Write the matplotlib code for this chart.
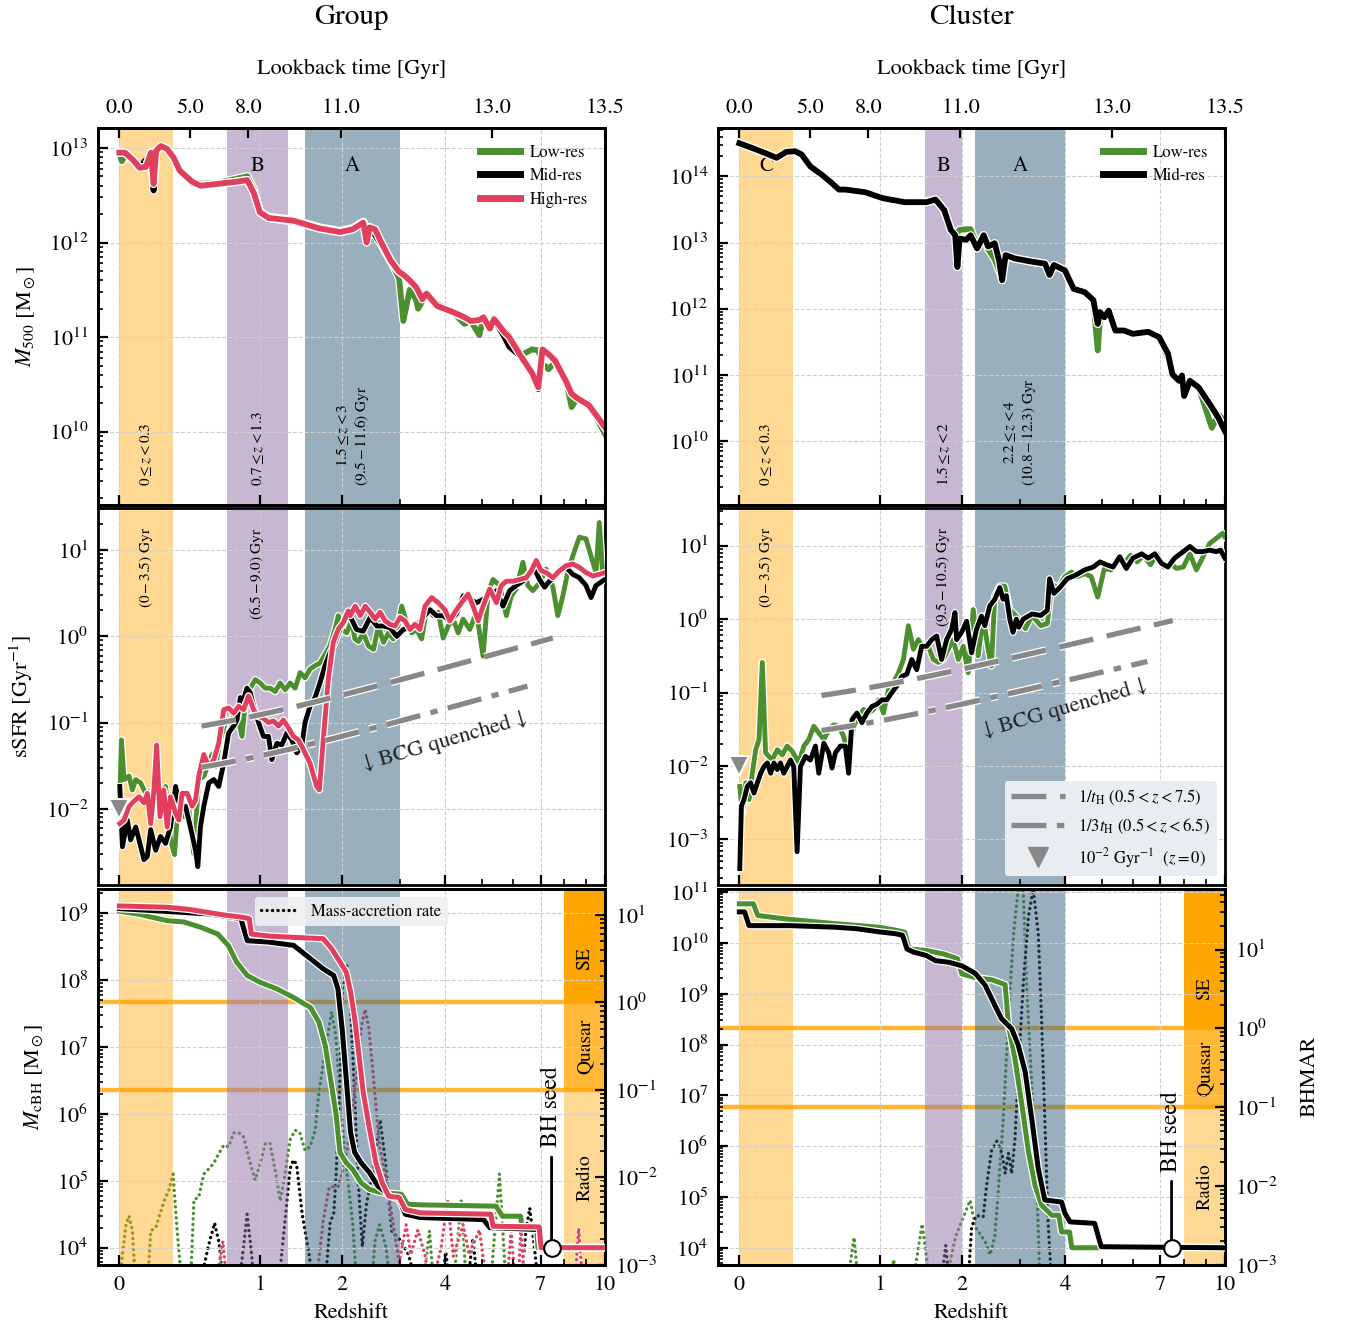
import numpy as np
import matplotlib
matplotlib.use("Agg")
import matplotlib.pyplot as plt
import matplotlib.patheffects as pe
import matplotlib.transforms as mtransforms
from matplotlib.lines import Line2D
from matplotlib.ticker import FixedLocator, NullFormatter, NullLocator

plt.rcParams.update({
    "font.family": "STIXGeneral",
    "mathtext.fontset": "stix",
    "font.size": 16,
    "axes.linewidth": 2.0,
    "xtick.direction": "in", "ytick.direction": "in",
    "xtick.major.size": 7, "xtick.minor.size": 4,
    "ytick.major.size": 7, "ytick.minor.size": 3.5,
    "xtick.major.width": 1.6, "ytick.major.width": 1.6,
    "xtick.minor.width": 1.2, "ytick.minor.width": 1.2,
    "xtick.major.pad": 7, "ytick.major.pad": 7,
    "xtick.labelsize": 16, "ytick.labelsize": 16,
})

GREEN = "#4b8f2f"
RED = "#e0405e"
BLACK = "black"
GREY = "#888888"

# ---------------- data (redshift, log10 value) ----------------
# shaded epochs C, B, A
GROUP_SPANS = [(0.0, 0.3), (0.7, 1.3), (1.5, 3.0)]
CLUSTER_SPANS = [(0.0, 0.3), (1.5, 2.0), (2.2, 4.0)]
SPAN_LETTERS = ["C", "B", "A"]
GROUP_ZTEXT = [r"$0\leq z<0.3$", r"$0.7\leq z<1.3$", "$1.5\\leq z<3$\n$(9.5-11.6)$ Gyr"]
GROUP_TTEXT = [r"$(0-3.5)$ Gyr", r"$(6.5-9.0)$ Gyr", None]
CLUSTER_ZTEXT = [r"$0\leq z<0.3$", r"$1.5\leq z<2$", "$2.2\\leq z<4$\n$(10.8-12.3)$ Gyr"]
CLUSTER_TTEXT = [r"$(0-3.5)$ Gyr", r"$(9.5-10.5)$ Gyr", None]

Z_MAJOR = [0, 1, 2, 4, 7, 10]
Z_MINOR = [3, 5, 6, 8, 9]
LOOKBACK_Z = [0.0, 0.42, 0.89, 1.98, 5.3, 10.0]
LOOKBACK_LABELS = ["0.0", "5.0", "8.0", "11.0", "13.0", "13.5"]

# Group M500
G_M500_Z = [0.000, 0.012, 0.028, 0.071, 0.105, 0.140, 0.169, 0.184, 0.199, 0.227,
            0.265, 0.306, 0.347, 0.434, 0.495, 0.625, 0.766, 0.880, 0.940, 1.001,
            1.087, 1.364, 1.679, 1.973, 2.165, 2.334, 2.390, 2.440, 2.534, 2.662,
            2.817, 2.980, 3.064, 3.194, 3.325, 3.371, 3.463, 3.557, 3.800, 4.219,
            4.495, 4.670, 4.916, 5.036, 5.229, 5.361, 5.699, 5.855, 6.281, 6.674,
            6.913, 7.080, 7.320, 7.600, 8.060, 8.330, 8.550, 9.160, 9.990]
G_M500_HIGH = [12.95, 12.95, 12.95, 12.87, 12.79, 12.80, 12.95, 12.62, 12.97, 13.02,
               12.99, 12.90, 12.76, 12.64, 12.60, 12.62, 12.64, 12.66, 12.53, 12.32,
               12.26, 12.23, 12.15, 12.11, 12.14, 12.21, 12.00, 12.16, 12.14, 11.98,
               11.81, 11.69, 11.66, 11.60, 11.53, 11.49, 11.40, 11.46, 11.33, 11.26,
               11.21, 11.17, 11.18, 11.21, 11.09, 11.19, 11.05, 11.00, 10.79, 10.62,
               10.47, 10.87, 10.82, 10.75, 10.54, 10.40, 10.36, 10.28, 10.05]
G_M500_MID = [12.95, 12.95, 12.95, 12.87, 12.79, 12.80, 12.95, 12.55, 12.97, 13.02,
              12.99, 12.90, 12.76, 12.64, 12.60, 12.62, 12.64, 12.66, 12.53, 12.32,
              12.26, 12.22, 12.15, 12.11, 12.14, 12.21, 12.10, 12.16, 12.08, 11.96,
              11.80, 11.69, 11.66, 11.60, 11.53, 11.49, 11.42, 11.46, 11.35, 11.25,
              11.21, 11.17, 11.18, 11.21, 11.09, 11.19, 11.00, 10.90, 10.79, 10.60,
              10.45, 10.87, 10.82, 10.75, 10.55, 10.42, 10.36, 10.28, 10.05]
G_M500_LOW = [12.95, 12.86, 12.92, 12.87, 12.79, 12.80, 12.95, 12.62, 12.97, 13.02,
              12.99, 12.90, 12.76, 12.65, 12.62, 12.63, 12.67, 12.70, 12.57, 12.33,
              12.27, 12.24, 12.16, 12.12, 12.15, 12.22, 12.12, 12.16, 12.12, 11.98,
              11.81, 11.62, 11.17, 11.50, 11.40, 11.30, 11.38, 11.44, 11.32, 11.25,
              11.14, 11.17, 11.02, 11.21, 11.12, 11.20, 11.07, 11.02, 10.81, 10.87,
              10.86, 10.72, 10.66, 10.74, 10.56, 10.26, 10.34, 10.30, 9.98]

# Cluster M500
C_M500_Z = [0.000, 0.083, 0.156, 0.202, 0.261, 0.317, 0.360, 0.420, 0.499, 0.566,
            0.635, 0.689, 0.862, 1.030, 1.263, 1.522, 1.633, 1.750, 1.841, 1.903,
            1.935, 1.967, 2.065, 2.132, 2.235, 2.342, 2.415, 2.528, 2.605, 2.660,
            2.724, 2.889, 3.242, 3.525, 3.626, 3.727, 3.989, 4.211, 4.502, 4.743,
            4.869, 4.933, 5.063, 5.195, 5.401, 5.683, 5.980, 6.530, 6.949, 7.302,
            7.484, 7.762, 7.896, 7.992, 8.250, 8.660, 9.310, 9.650, 10.0]
C_M500_MID = [14.50, 14.41, 14.33, 14.28, 14.37, 14.38, 14.33, 14.15, 14.03, 13.92,
              13.80, 13.80, 13.76, 13.67, 13.61, 13.61, 13.65, 13.49, 13.19, 13.11,
              12.63, 13.06, 13.04, 13.11, 12.91, 13.11, 12.94, 12.99, 12.73, 12.43,
              12.81, 12.76, 12.71, 12.68, 12.51, 12.66, 12.58, 12.30, 12.25, 12.13,
              11.77, 11.95, 11.87, 11.97, 11.67, 11.67, 11.62, 11.65, 11.57, 11.32,
              11.01, 10.91, 10.99, 10.68, 10.91, 10.81, 10.51, 10.35, 10.15]
C_M500_LOW = [14.50, 14.41, 14.33, 14.28, 14.37, 14.38, 14.33, 14.15, 14.03, 13.92,
              13.80, 13.80, 13.76, 13.67, 13.61, 13.62, 13.65, 13.49, 13.19, 13.13,
              13.15, 13.19, 13.20, 13.20, 12.95, 13.11, 12.90, 12.75, 12.58, 12.45,
              12.80, 12.76, 12.71, 12.68, 12.55, 12.66, 12.58, 12.30, 12.25, 12.13,
              11.37, 11.85, 11.87, 11.97, 11.67, 11.67, 11.62, 11.65, 11.57, 11.25,
              11.05, 10.91, 10.99, 10.75, 10.91, 10.81, 10.20, 10.40, 10.30]

# Group sSFR [log Gyr^-1]
G_SSFR_HIGH = [(0.002, -2.17), (0.023, -2.13), (0.049, -1.97), (0.075, -1.91), (0.102, -1.86),
               (0.129, -1.93), (0.148, -1.82), (0.167, -2.17), (0.186, -1.78), (0.202, -1.26),
               (0.222, -2.09), (0.245, -1.78), (0.266, -2.21), (0.287, -1.86), (0.320, -2.05),
               (0.341, -2.13), (0.363, -1.82), (0.398, -1.82), (0.432, -1.97), (0.456, -1.90),
               (0.480, -1.62), (0.517, -1.37), (0.555, -1.51), (0.594, -1.43), (0.633, -1.24),
               (0.674, -0.85), (0.715, -0.83), (0.758, -0.89), (0.802, -0.81), (0.847, -0.85),
               (0.892, -0.69), (0.940, -0.85), (0.988, -0.93), (1.037, -0.95), (1.088, -1.00),
               (1.140, -0.98), (1.194, -1.04), (1.248, -0.97), (1.304, -1.06), (1.362, -1.16),
               (1.420, -1.20), (1.481, -1.31), (1.563, -1.47), (1.649, -1.74), (1.684, -1.78),
               (1.737, -1.20), (1.805, -0.50), (1.875, -0.07), (1.948, 0.085), (2.021, 0.16),
               (2.096, 0.295), (2.126, 0.24), (2.205, 0.35), (2.285, 0.24), (2.366, 0.35),
               (2.450, 0.28), (2.535, 0.20), (2.623, 0.28), (2.714, 0.18), (2.807, 0.14),
               (2.901, 0.12), (2.999, 0.22), (3.098, 0.18), (3.200, 0.08), (3.304, 0.14),
               (3.411, 0.08), (3.521, 0.35), (3.674, 0.45), (3.827, 0.39), (3.989, 0.31),
               (4.113, 0.18), (4.241, 0.28), (4.415, 0.39), (4.596, 0.49), (4.735, 0.35),
               (4.879, 0.18), (5.025, 0.35), (5.225, 0.55), (5.434, 0.39), (5.595, 0.59),
               (5.759, 0.64), (5.983, 0.64), (6.216, 0.66), (6.455, 0.68), (6.643, 0.76),
               (6.834, 0.88), (7.031, 0.76), (7.229, 0.74), (7.505, 0.68), (7.784, 0.76),
               (8.078, 0.82), (8.380, 0.84), (8.693, 0.80), (9.016, 0.74), (9.353, 0.70),
               (9.694, 0.72), (10.0, 0.74)]
G_SSFR_MID = [(0.002, -1.74), (0.015, -2.44), (0.040, -2.13), (0.057, -2.36), (0.084, -2.21),
              (0.102, -2.36), (0.129, -2.59), (0.148, -2.55), (0.167, -2.24), (0.196, -2.48),
              (0.225, -2.32), (0.256, -2.40), (0.287, -2.21), (0.320, -1.74), (0.352, -2.01),
              (0.386, -1.97), (0.420, -2.21), (0.456, -2.48), (0.473, -2.67), (0.492, -2.21),
              (0.517, -1.97), (0.555, -1.70), (0.594, -1.66), (0.633, -1.74), (0.674, -1.47),
              (0.715, -1.12), (0.758, -1.04), (0.787, -0.97), (0.817, -0.71), (0.847, -0.73),
              (0.877, -0.60), (0.908, -0.65), (0.940, -0.81), (0.988, -1.00), (1.037, -1.16),
              (1.088, -1.16), (1.123, -1.43), (1.176, -1.24), (1.230, -1.26), (1.286, -1.12),
              (1.343, -1.20), (1.401, -1.35), (1.460, -1.28), (1.501, -1.00), (1.563, -0.81),
              (1.627, -0.71), (1.692, -0.54), (1.760, -0.34), (1.829, -0.19), (1.900, -0.07),
              (1.971, 0.08), (2.045, 0.20), (2.121, 0.24), (2.225, 0.08), (2.333, 0.06),
              (2.450, 0.22), (2.565, 0.12), (2.684, 0.12), (2.807, 0.10), (2.933, 0.00),
              (3.064, 0.08), (3.200, 0.10), (3.340, 0.12), (3.485, 0.22), (3.634, 0.31),
              (3.788, 0.24), (3.948, 0.24), (4.113, 0.18), (4.284, 0.26), (4.460, 0.47),
              (4.642, 0.43), (4.831, 0.39), (5.025, 0.43), (5.225, 0.47), (5.434, 0.53),
              (5.647, 0.35), (5.870, 0.53), (6.096, 0.59), (6.334, 0.64), (6.580, 0.74),
              (6.769, 0.78), (6.962, 0.66), (7.161, 0.57), (7.364, 0.64), (7.642, 0.70),
              (7.857, 0.78), (8.078, 0.80), (8.380, 0.72), (8.693, 0.68), (9.016, 0.59),
              (9.266, 0.45), (9.522, 0.59), (10.0, 0.66)]
G_SSFR_LOW = [(0.002, -1.90), (0.010, -1.20), (0.023, -1.66), (0.049, -1.62), (0.066, -1.78),
              (0.084, -1.66), (0.111, -1.70), (0.138, -1.82), (0.167, -1.90), (0.196, -1.74),
              (0.225, -1.97), (0.256, -1.74), (0.287, -2.36), (0.313, -2.53), (0.341, -1.82),
              (0.375, -2.09), (0.409, -2.01), (0.444, -2.52), (0.480, -1.66), (0.517, -1.62),
              (0.555, -1.47), (0.580, -1.37), (0.607, -1.51), (0.646, -1.20), (0.688, -1.00),
              (0.730, -0.97), (0.787, -0.89), (0.832, -1.16), (0.862, -0.77), (0.908, -0.60),
              (0.956, -0.50), (1.004, -0.54), (1.054, -0.60), (1.106, -0.60), (1.158, -0.64),
              (1.212, -0.54), (1.267, -0.62), (1.323, -0.54), (1.381, -0.60), (1.441, -0.42),
              (1.501, -0.48), (1.563, -0.38), (1.627, -0.34), (1.692, -0.31), (1.760, -0.21),
              (1.829, -0.11), (1.900, 0.08), (1.948, 0.24), (1.996, 0.08), (2.072, 0.04),
              (2.147, 0.18), (2.199, -0.03), (2.258, -0.06), (2.333, 0.04), (2.420, -0.11),
              (2.507, -0.15), (2.594, 0.12), (2.684, -0.07), (2.776, 0.04), (2.869, -0.03),
              (2.966, 0.14), (3.031, 0.35), (3.132, 0.16), (3.235, 0.04), (3.340, 0.08),
              (3.448, -0.03), (3.558, 0.31), (3.711, 0.24), (3.827, 0.28), (3.948, -0.02),
              (4.071, 0.12), (4.198, 0.20), (4.328, 0.04), (4.460, 0.20), (4.642, 0.08),
              (4.831, 0.28), (5.025, -0.23), (5.176, 0.51), (5.329, 0.66), (5.541, 0.59),
              (5.759, 0.24), (5.927, 0.47), (6.096, 0.55), (6.334, 0.86), (6.517, 0.59),
              (6.705, 0.53), (6.962, 0.62), (7.229, 0.78), (7.505, 0.57), (7.714, 0.24),
              (7.933, 0.47), (8.150, 0.74), (8.380, 0.93), (8.693, 1.15), (9.016, 1.13),
              (9.266, 0.93), (9.522, 0.74), (9.694, 1.32), (9.870, 0.74)]

# Cluster sSFR
C_SSFR_MID = [(0.002, -3.40), (0.010, -2.55), (0.023, -2.46), (0.040, -2.28), (0.057, -2.23),
              (0.075, -2.37), (0.093, -2.23), (0.111, -2.10), (0.129, -2.01), (0.148, -1.96),
              (0.167, -2.10), (0.186, -1.96), (0.206, -2.05), (0.225, -1.96), (0.245, -2.10),
              (0.266, -2.01), (0.287, -1.92), (0.308, -2.01), (0.330, -3.17), (0.352, -2.01),
              (0.386, -1.87), (0.420, -1.92), (0.456, -1.73), (0.480, -2.10), (0.517, -1.69),
              (0.555, -1.82), (0.580, -2.03), (0.607, -1.82), (0.646, -1.73), (0.688, -1.73),
              (0.715, -2.10), (0.744, -1.37), (0.787, -1.28), (0.832, -1.41), (0.877, -1.28),
              (0.924, -1.19), (0.972, -1.16), (1.021, -1.10), (1.072, -1.10), (1.123, -1.00),
              (1.176, -0.91), (1.230, -0.78), (1.286, -0.75), (1.343, -0.55), (1.401, -0.69),
              (1.460, -0.37), (1.522, -0.37), (1.585, -0.28), (1.649, -0.23), (1.715, -0.55),
              (1.783, -0.28), (1.852, -0.14), (1.900, 0.09), (1.923, -0.28), (1.996, -0.18),
              (2.072, -0.03), (2.147, -0.46), (2.225, -0.14), (2.305, 0.04), (2.360, -0.09),
              (2.444, 0.18), (2.530, 0.27), (2.618, 0.43), (2.678, 0.27), (2.738, 0.32),
              (2.801, 0.00), (2.863, -0.18), (2.926, 0.00), (2.974, -0.11), (3.061, 0.00),
              (3.242, 0.07), (3.430, 0.05), (3.576, 0.12), (3.626, 0.55), (3.727, 0.35),
              (3.883, 0.44), (4.043, 0.55), (4.266, 0.60), (4.502, 0.67), (4.743, 0.71),
              (4.933, 0.78), (5.129, 0.74), (5.331, 0.71), (5.542, 0.85), (5.757, 0.69),
              (5.980, 0.83), (6.290, 0.89), (6.530, 0.83), (6.780, 0.89), (7.038, 0.76),
              (7.302, 0.71), (7.575, 0.83), (7.954, 0.92), (8.250, 0.99), (8.554, 0.92),
              (8.872, 0.92), (9.197, 0.94), (9.534, 0.92), (9.764, 0.94), (10.0, 0.83)]
C_SSFR_LOW = [(0.002, -2.28), (0.015, -2.64), (0.032, -2.23), (0.049, -2.46), (0.066, -2.10),
              (0.084, -1.78), (0.102, -1.64), (0.120, -0.59), (0.138, -1.82), (0.157, -1.87),
              (0.176, -1.92), (0.206, -1.78), (0.236, -1.85), (0.266, -1.73), (0.298, -1.80),
              (0.341, -1.96), (0.375, -1.73), (0.409, -1.64), (0.444, -1.46), (0.480, -1.55),
              (0.517, -1.64), (0.555, -1.51), (0.594, -1.44), (0.633, -1.46), (0.674, -1.60),
              (0.715, -1.87), (0.758, -1.46), (0.802, -1.32), (0.847, -1.23), (0.893, -1.28),
              (0.940, -1.23), (0.988, -1.10), (1.037, -1.28), (1.088, -0.96), (1.140, -0.87),
              (1.194, -0.73), (1.248, -0.55), (1.304, -0.09), (1.362, -0.41), (1.420, -0.28),
              (1.481, -0.41), (1.543, -0.37), (1.606, -0.55), (1.671, -0.59), (1.737, -0.55),
              (1.805, -0.41), (1.875, -0.28), (1.948, -0.55), (2.021, -0.37), (2.096, -0.73),
              (2.174, 0.13), (2.252, -0.50), (2.333, 0.04), (2.415, -0.41), (2.471, -0.64),
              (2.530, 0.32), (2.618, 0.45), (2.708, 0.45), (2.801, 0.13), (2.926, 0.04),
              (3.106, -0.13), (3.242, 0.05), (3.430, -0.09), (3.576, -0.06), (3.677, 0.48),
              (3.830, 0.42), (3.989, 0.58), (4.154, 0.64), (4.324, 0.58), (4.502, 0.62),
              (4.682, 0.58), (4.869, 0.30), (5.063, 0.69), (5.263, 0.67), (5.470, 0.80),
              (5.683, 0.76), (5.904, 0.87), (6.132, 0.78), (6.368, 0.87), (6.613, 0.74),
              (6.865, 0.89), (7.125, 0.71), (7.391, 0.76), (7.668, 0.69), (7.954, 0.71),
              (8.250, 0.89), (8.554, 0.67), (8.872, 0.85), (9.197, 1.03), (9.534, 1.10),
              (9.880, 1.17), (10.0, 1.12)]

# Group central black hole mass [log Msun]
G_MBH_HIGH = [(0.0, 9.11), (0.265, 9.09), (0.404, 9.06), (0.558, 9.01), (0.694, 8.97),
              (0.841, 8.94), (0.899, 8.92), (0.919, 8.69), (1.087, 8.66), (1.364, 8.64),
              (1.735, 8.62), (1.852, 8.47), (1.973, 8.27), (2.066, 8.12), (2.132, 7.82),
              (2.197, 7.42), (2.265, 6.87), (2.334, 6.32), (2.440, 5.77), (2.549, 5.27),
              (2.662, 4.97), (2.779, 4.77), (2.980, 4.75), (3.106, 4.57), (3.417, 4.52),
              (5.26, 4.50), (5.33, 4.32), (6.95, 4.31), (7.02, 4.00), (10.0, 4.00)]
G_MBH_MID = [(0.0, 9.07), (0.558, 8.99), (0.822, 8.92), (0.880, 8.59), (1.087, 8.57),
             (1.364, 8.52), (1.570, 8.32), (1.735, 8.17), (1.882, 8.07), (1.942, 7.87),
             (2.004, 7.27), (2.066, 6.52), (2.132, 5.72), (2.197, 5.42), (2.299, 5.27),
             (2.440, 5.12), (2.586, 4.92), (2.817, 4.77), (2.980, 4.72), (3.106, 4.50),
             (3.417, 4.45), (5.036, 4.42), (5.229, 4.30), (6.95, 4.27), (7.02, 4.00),
             (10.0, 4.00)]
G_MBH_LOW = [(0.0, 9.03), (0.094, 8.99), (0.265, 8.89), (0.375, 8.87), (0.495, 8.79),
             (0.625, 8.69), (0.712, 8.52), (0.784, 8.27), (0.880, 8.07), (1.001, 7.97),
             (1.175, 7.87), (1.364, 7.74), (1.570, 7.59), (1.679, 7.37), (1.764, 7.02),
             (1.852, 6.42), (1.912, 6.02), (1.973, 5.42), (2.066, 5.27), (2.165, 5.17),
             (2.299, 4.97), (2.440, 4.87), (2.662, 4.82), (3.022, 4.80), (3.149, 4.65),
             (3.417, 4.64), (5.425, 4.62), (5.629, 4.47), (6.25, 4.47), (6.30, 4.30),
             (6.85, 4.30), (6.90, 4.00), (10.0, 4.00)]

# Group black hole mass-accretion rate (BHMAR) [log]
G_BHMAR_LOW = [(0.000, -3.3), (0.014, -2.90), (0.033, -2.54), (0.049, -2.44), (0.066, -2.61),
               (0.086, -3.3), (0.148, -3.3), (0.167, -2.61), (0.197, -2.57), (0.247, -2.27),
               (0.276, -2.15), (0.303, -1.96), (0.330, -2.61), (0.365, -3.3), (0.419, -3.3),
               (0.445, -2.25), (0.479, -2.23), (0.517, -1.96), (0.556, -1.90), (0.592, -1.84),
               (0.633, -1.73), (0.675, -1.63), (0.714, -1.65), (0.758, -1.49), (0.803, -1.49),
               (0.845, -1.53), (0.892, -1.76), (0.954, -2.03), (1.004, -1.84), (1.056, -1.61),
               (1.104, -1.61), (1.158, -1.92), (1.213, -2.27), (1.265, -1.96), (1.323, -1.57),
               (1.382, -1.46), (1.438, -1.49), (1.500, -1.69), (1.564, -1.65), (1.630, -1.46),
               (1.673, -1.07), (1.754, -0.60), (1.851, -0.11), (1.911, -0.38), (1.985, -1.20),
               (2.069, -1.90), (2.162, -2.50), (2.236, -3.3), (2.467, -3.3), (2.532, -2.73),
               (2.614, -2.54), (2.733, -2.80), (2.820, -3.3), (3.467, -3.3), (3.624, -2.61),
               (3.732, -3.3), (4.188, -3.3), (4.408, -2.27), (4.559, -3.3), (5.237, -3.3),
               (5.531, -1.96), (5.761, -3.3), (10.0, -3.3)]
G_BHMAR_MID = [(0.479, -3.3), (0.549, -2.80), (0.600, -2.52), (0.637, -2.75), (0.675, -3.3),
               (0.799, -3.3), (0.845, -2.80), (0.879, -2.42), (0.919, -2.85), (0.950, -3.3),
               (1.188, -3.3), (1.265, -2.50), (1.323, -1.90), (1.361, -1.80), (1.399, -1.85),
               (1.466, -2.42), (1.547, -2.85), (1.618, -3.3), (1.754, -3.3), (1.831, -2.52),
               (1.884, -2.40), (1.917, -1.95), (1.972, -0.88), (2.006, 0.15), (2.076, 0.42),
               (2.119, 0.10), (2.184, -0.88), (2.251, -2.03), (2.319, -2.79), (2.388, -2.30),
               (2.508, -1.91), (2.622, -1.34), (2.715, -1.80), (2.837, -2.61), (2.981, -2.70),
               (3.169, -2.88), (3.365, -3.3), (3.898, -3.3), (4.012, -2.85), (4.129, -3.3),
               (4.559, -3.3), (4.728, -2.70), (4.888, -3.3), (6.244, -3.3), (6.447, -2.60),
               (6.586, -2.35), (6.763, -2.80), (6.943, -3.3), (10.0, -3.3)]
G_BHMAR_HIGH = [(0.603, -3.3), (0.667, -2.73), (0.706, -3.3), (1.630, -3.3), (1.735, -2.50),
                (1.818, -2.11), (1.951, -2.10), (2.006, -1.95), (2.090, -1.64), (2.199, -1.00),
                (2.311, -0.25), (2.365, -0.08), (2.428, -0.30), (2.508, -0.88), (2.614, -1.64),
                (2.733, -2.02), (2.855, -2.50), (2.981, -2.97), (3.121, -2.54), (3.217, -2.88),
                (3.365, -2.60), (3.519, -2.88), (3.656, -3.3), (3.898, -2.80), (4.058, -2.25),
                (4.200, -2.90), (4.458, -2.54), (4.623, -2.88), (4.916, -2.60), (5.166, -3.3),
                (5.761, -3.3), (5.918, -2.61), (6.080, -3.3), (6.16, -3.3), (6.26, -2.55),
                (6.413, -3.3), (8.44, -3.3), (8.66, -2.58), (8.886, -3.3), (10.0, -3.3)]

# Cluster central black hole mass [log Msun]
C_MBH_MID = [(0.0, 10.61), (0.026, 10.61), (0.049, 10.34), (0.289, 10.34), (0.600, 10.31),
             (0.783, 10.28), (0.987, 10.22), (1.167, 10.18), (1.239, 10.15), (1.288, 9.88),
             (1.363, 9.82), (1.522, 9.75), (1.633, 9.65), (1.810, 9.62), (1.999, 9.55),
             (2.206, 9.40), (2.365, 9.17), (2.532, 8.77), (2.648, 8.51), (2.837, 8.31),
             (2.963, 7.99), (3.102, 7.46), (3.236, 6.54), (3.375, 5.56), (3.519, 4.94),
             (3.910, 4.90), (3.989, 4.68), (4.117, 4.51), (4.78, 4.48), (4.97, 4.02),
             (10.0, 4.00)]
C_MBH_LOW = [(0.0, 10.77), (0.072, 10.77), (0.095, 10.54), (0.261, 10.47), (0.600, 10.38),
             (0.987, 10.31), (1.167, 10.25), (1.263, 10.21), (1.313, 9.88), (1.522, 9.85),
             (1.750, 9.78), (1.935, 9.69), (1.999, 9.39), (2.201, 9.32), (2.490, 9.27),
             (2.715, 9.18), (2.776, 8.38), (2.899, 7.72), (3.027, 6.87), (3.169, 5.89),
             (3.305, 5.23), (3.446, 4.84), (3.677, 4.64), (3.842, 4.64), (3.910, 4.31),
             (4.105, 4.31), (4.164, 4.00), (4.93, 4.00)]

# Cluster BHMAR [log]
C_BHMAR_MID = [(1.700, -3.3), (1.770, -2.75), (1.830, -3.3), (2.090, -3.3), (2.148, -2.52),
               (2.221, -2.37), (2.334, -2.39), (2.388, -2.00), (2.475, -1.54), (2.565, -1.43),
               (2.656, -1.58), (2.715, -1.84), (2.776, -1.58), (2.837, -1.84), (2.899, -1.41),
               (2.963, -0.55), (3.064, 0.57), (3.169, 1.42), (3.266, 1.77), (3.375, 1.21),
               (3.446, 0.14), (3.519, -1.15), (3.592, -2.44), (3.677, -3.3), (10.0, -3.3)]
C_BHMAR_LOW = [(0.698, -3.3), (0.762, -2.65), (0.803, -3.3), (1.089, -3.3), (1.143, -2.93),
               (1.178, -3.3), (1.344, -3.3), (1.466, -2.48), (1.570, -3.3), (1.754, -3.3),
               (1.904, -2.65), (1.999, -2.44), (2.126, -2.18), (2.206, -2.52), (2.365, -2.70),
               (2.451, -2.87), (2.532, -2.63), (2.597, -2.00), (2.681, -1.15), (2.776, 0.14),
               (2.873, 1.21), (2.963, 1.77), (3.064, 1.73), (3.130, 0.57), (3.236, -0.72),
               (3.345, -2.00), (3.416, -3.3), (10.0, -3.3)]

SEED_Z = 7.45
SEED_LOGM = 4.0
QUENCH_LOG = -2.0        # 10^-2 Gyr^-1 at z=0
H0_KMS = 67.7
OMEGA_M = 0.31

# axis ranges (log10)
G_YLIM = [(9.23, 13.21), (-2.88, 1.485), (3.74, 9.37)]
C_YLIM = [(9.04, 14.73), (-3.62, 1.51), (3.66, 11.07)]
G_TWIN_YLIM = (-3.0, 1.30)
C_TWIN_YLIM = (-3.0, 1.775)


# ---------------- helpers ----------------
def fwd(z):
    return np.log10(np.maximum(1.0 + np.asarray(z, float), 1e-3))


def inv(x):
    return 10.0 ** np.asarray(x, float) - 1.0


def zmid(z0, z1):
    return np.sqrt((1 + z0) * (1 + z1)) - 1


def outline(lw):
    return [pe.Stroke(linewidth=lw + 1.8, foreground="white"), pe.Normal()]


def draw(ax, z, logv, color, lw=3.6, **kw):
    ax.plot(z, 10.0 ** np.asarray(logv), color=color, lw=lw,
            solid_joinstyle="round", path_effects=outline(lw), **kw)


def draw_pairs(ax, pairs, color, lw=3.6, **kw):
    z, v = np.array(pairs).T
    draw(ax, z, v, color, lw=lw, **kw)


DOT_DASHES = (0.05, 1.6)


def draw_dotted(ax, pairs, color):
    z, v = np.array(pairs).T
    ax.plot(z, 10.0 ** v, color=color, lw=2.4, dashes=DOT_DASHES,
            dash_capstyle="round", zorder=1,
            path_effects=[pe.Stroke(linewidth=3.8, foreground="white", alpha=0.6),
                          pe.Normal()])


def hubble_rate(z):
    # 1/t_H in Gyr^-1
    return H0_KMS / 977.79 * np.sqrt(OMEGA_M * (1 + z) ** 3 + 1 - OMEGA_M)


SPAN_COLORS = [("orange", 0.42), ("#9171a9", 0.5), ("#35617d", 0.5)]


def add_spans(ax, spans, zorder=0):
    for (z0, z1), (col, a) in zip(spans, SPAN_COLORS):
        ax.axvspan(z0, z1, color=col, alpha=a, lw=0, zorder=zorder)


def style_x(ax):
    ax.set_xscale("function", functions=(fwd, inv))
    ax.set_xlim(-0.1, 10)
    ax.xaxis.set_major_locator(FixedLocator(Z_MAJOR))
    ax.xaxis.set_minor_locator(FixedLocator(Z_MINOR))
    ax.xaxis.set_minor_formatter(NullFormatter())
    ax.grid(True, which="major", ls="--", lw=0.8, color="#cfcfcf")
    ax.set_axisbelow(True)


# ---------------- figure ----------------
fig, axes = plt.subplots(3, 2, figsize=(13.47, 13.27), dpi=100, sharex=True,
                         gridspec_kw=dict(left=0.0728, right=0.9094, top=0.9035,
                                          bottom=0.0467, wspace=0.223, hspace=0.01))

for col, (spans, ylims, ztext, ttext, title) in enumerate([
        (GROUP_SPANS, G_YLIM, GROUP_ZTEXT, GROUP_TTEXT, "Group"),
        (CLUSTER_SPANS, C_YLIM, CLUSTER_ZTEXT, CLUSTER_TTEXT, "Cluster")]):
    for row in range(3):
        ax = axes[row, col]
        style_x(ax)
        ax.set_yscale("log")
        ax.set_ylim(10 ** ylims[row][0], 10 ** ylims[row][1])
        if row < 2:
            add_spans(ax, spans)
    # epoch labels
    ax1, ax2 = axes[0, col], axes[1, col]
    tr1 = mtransforms.blended_transform_factory(ax1.transData, ax1.transAxes)
    tr2 = mtransforms.blended_transform_factory(ax2.transData, ax2.transAxes)
    for (z0, z1), letter, zt, tt in zip(spans, SPAN_LETTERS, ztext, ttext):
        zm = zmid(z0, z1)
        ax1.text(zm, 0.90, letter, transform=tr1, ha="center", va="center",
                 fontsize=15, zorder=1)
        ax1.text(zm, 0.05, zt, transform=tr1, ha="center", va="bottom",
                 rotation=90, fontsize=11, multialignment="center", zorder=1)
        if tt is not None:
            ax2.text(zm, 0.95, tt, transform=tr2, ha="center", va="top",
                     rotation=90, fontsize=11, zorder=1)

    # top lookback axis
    axt = ax1.twiny()
    axt.set_xscale("function", functions=(fwd, inv))
    axt.set_xlim(-0.1, 10)
    axt.xaxis.set_major_locator(FixedLocator(LOOKBACK_Z))
    axt.xaxis.set_minor_locator(NullLocator())
    axt.set_xticklabels(LOOKBACK_LABELS)
    axt.tick_params(axis="x", direction="in", length=7, width=1.6, pad=7)
    axt.set_xlabel("Lookback time [Gyr]", labelpad=18, fontsize=16)
    pos = ax1.get_position()
    fig.text((pos.x0 + pos.x1) / 2, 0.987, title, ha="center", va="center", fontsize=21)

    axes[2, col].set_xlabel("Redshift", fontsize=16, labelpad=6)

# ---- row 1: M500
ax = axes[0, 0]
draw(ax, G_M500_Z, G_M500_LOW, GREEN, lw=4.2, label="Low-res")
draw(ax, G_M500_Z, G_M500_MID, BLACK, lw=4.2, label="Mid-res")
draw(ax, G_M500_Z, G_M500_HIGH, RED, lw=4.2, label="High-res")
ax.set_ylabel(r"$M_{500}$ [M$_\odot$]", fontsize=16, labelpad=8)
ax = axes[0, 1]
draw(ax, C_M500_Z, C_M500_LOW, GREEN, lw=4.2, label="Low-res")
draw(ax, C_M500_Z, C_M500_MID, BLACK, lw=4.2, label="Mid-res")
for a in axes[0]:
    leg = a.legend(loc="upper right", frameon=False, fontsize=12, handlelength=2.4,
                   labelspacing=0.45, handletextpad=0.6, borderaxespad=0.6)
    for h in leg.get_lines():
        h.set_linewidth(5)
        h.set_path_effects([])

# ---- row 2: sSFR
for a, series in [(axes[1, 0], [(G_SSFR_LOW, GREEN), (G_SSFR_MID, BLACK), (G_SSFR_HIGH, RED)]),
                  (axes[1, 1], [(C_SSFR_LOW, GREEN), (C_SSFR_MID, BLACK)])]:
    for pairs, c in series:
        draw_pairs(a, pairs, c, lw=3.5, zorder=3)
    zt = np.linspace(0.5, 7.5, 80)
    a.plot(zt, hubble_rate(zt), color=GREY, lw=3.8, dashes=(6.6, 2.6), zorder=4,
           path_effects=outline(3.8))
    zt3 = np.linspace(0.5, 6.5, 80)
    a.plot(zt3, hubble_rate(zt3) / 3, color=GREY, lw=3.8, dashes=(6.6, 2.0, 1.4, 2.0),
           zorder=4, path_effects=outline(3.8))
    a.plot(0, 10 ** QUENCH_LOG, marker="v", ms=15, color=GREY, mec="white", mew=1.5,
           ls="none", zorder=5)
    a.text(4.0, 0.06, "\u2193 BCG quenched \u2193", rotation=16, ha="center",
           va="center", fontsize=16, color="#222222", zorder=5)
axes[1, 0].set_ylabel(r"sSFR [Gyr$^{-1}$]", fontsize=16, labelpad=8)
handles = [Line2D([], [], color=GREY, lw=3.8, dashes=(6.6, 2.6)),
           Line2D([], [], color=GREY, lw=3.8, dashes=(6.6, 2.0, 1.4, 2.0)),
           Line2D([], [], color=GREY, marker="v", ms=15, ls="none")]
labels = [r"$1/t_{\rm H}$ $(0.5<z<7.5)$", r"$1/3t_{\rm H}$ $(0.5<z<6.5)$",
          r"$10^{-2}$ Gyr$^{-1}$  $(z=0)$"]
leg = axes[1, 1].legend(handles, labels, loc="lower right", fontsize=12, handlelength=3.2,
                        facecolor="#e9edf0", edgecolor="none", framealpha=1.0,
                        borderaxespad=0.5, labelspacing=0.6)
leg.set_zorder(10)

# ---- row 3: black hole mass + accretion rate
for col, (spans, mbh, bhmar, twin_lim) in enumerate([
        (GROUP_SPANS, [(G_MBH_LOW, GREEN), (G_MBH_MID, BLACK), (G_MBH_HIGH, RED)],
         [(G_BHMAR_LOW, GREEN), (G_BHMAR_MID, BLACK), (G_BHMAR_HIGH, RED)], G_TWIN_YLIM),
        (CLUSTER_SPANS, [(C_MBH_LOW, GREEN), (C_MBH_MID, BLACK)],
         [(C_BHMAR_LOW, GREEN), (C_BHMAR_MID, BLACK)], C_TWIN_YLIM)]):
    ax = axes[2, col]
    tw = ax.twinx()
    tw.set_yscale("log")
    tw.set_ylim(10 ** twin_lim[0], 10 ** twin_lim[1])
    tw.tick_params(axis="y", which="both", direction="in")
    ax.set_zorder(tw.get_zorder() + 1)
    ax.patch.set_visible(False)
    # regime strip
    top = 10 ** twin_lim[1]
    for lo, hi, a_ in [(1e-3, 0.1, 0.42), (0.1, 1.0, 0.78), (1.0, top, 1.0)]:
        tw.fill_between([8, 10], [lo, lo], [hi, hi], color="orange", alpha=a_, lw=0, zorder=0.1)
    for y in (1.0, 0.1):
        tw.axhline(y, color="orange", lw=3.2, alpha=0.8, zorder=0.5)
    for pairs, c in bhmar:
        draw_dotted(tw, pairs, c)
    add_spans(tw, spans, zorder=2)
    for txt, y in [("SE", 10 ** 0.5), ("Quasar", 10 ** -0.5), ("Radio", 1e-2)]:
        tw.text(zmid(8, 10), y, txt, rotation=90, ha="center", va="center",
                fontsize=14, zorder=3)
    for pairs, c in mbh:
        draw_pairs(ax, pairs, c, lw=3.6, zorder=3)
    ax.plot(SEED_Z, 10 ** SEED_LOGM, "o", ms=12, mfc="white", mec="k", mew=1.5, zorder=6)
    ax.annotate("BH seed", xy=(SEED_Z, 10 ** SEED_LOGM), xytext=(SEED_Z, 10 ** 5.5),
                rotation=90, ha="center", va="bottom", fontsize=17, zorder=6,
                arrowprops=dict(arrowstyle="-", color="k", lw=2, shrinkA=5, shrinkB=6))
    if col == 1:
        tw.set_ylabel("BHMAR", fontsize=16, labelpad=16)

axes[2, 0].set_ylabel(r"$M_{\rm cBH}$ [M$_\odot$]", fontsize=16, labelpad=8)
axes[2, 0].legend([Line2D([], [], color="k", lw=2.4, dashes=DOT_DASHES,
                          dash_capstyle="round")],
                  ["Mass-accretion rate"], loc="upper center", fontsize=12,
                  facecolor="#eef0f2", edgecolor="none", framealpha=0.9,
                  handlelength=2.2, borderaxespad=0.5)

fig.savefig("out.png", dpi=100)
